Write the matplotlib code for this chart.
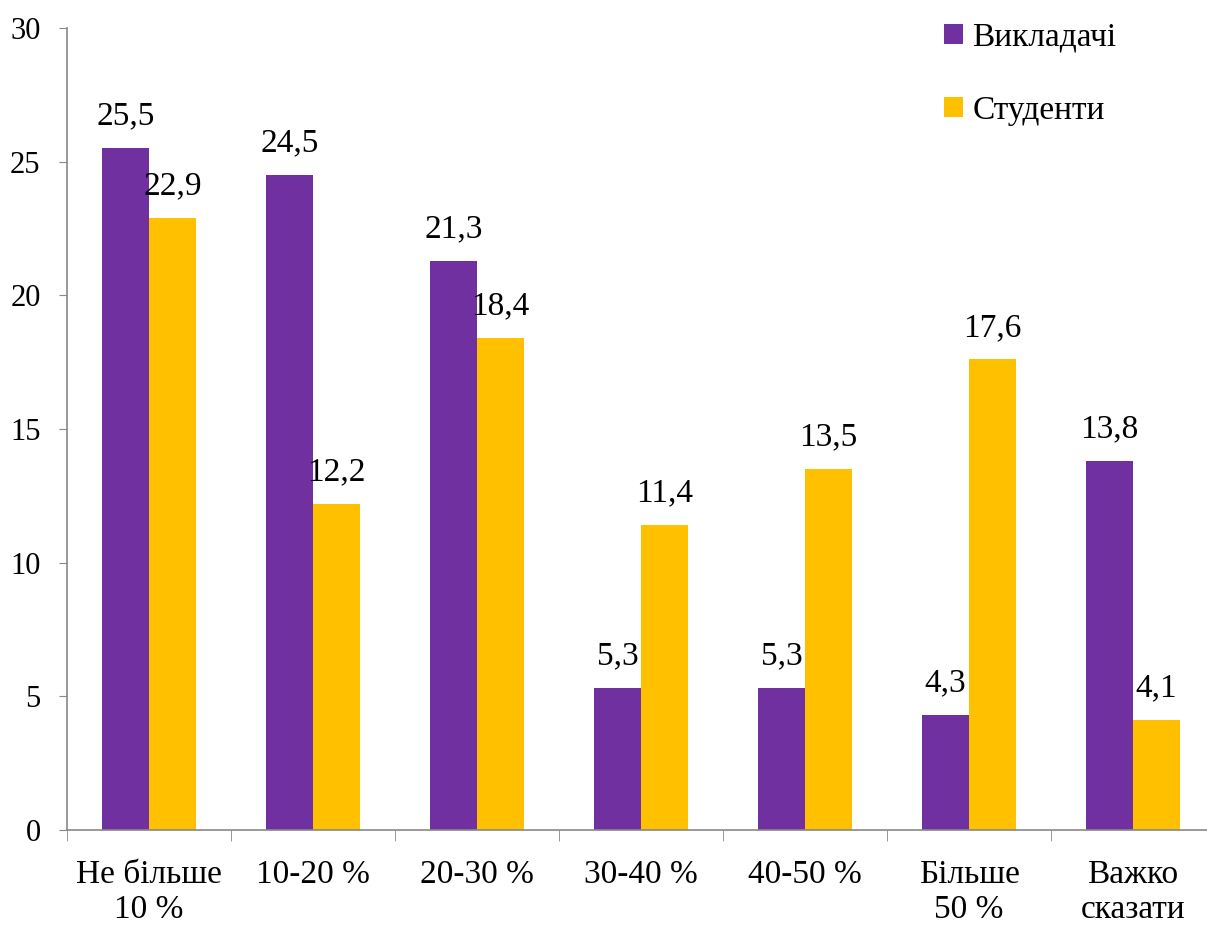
import matplotlib.pyplot as plt
import numpy as np

plt.rcParams['font.family'] = ['Liberation Serif', 'DejaVu Serif']

categories = ['Не більше\n10 %', '10-20 %', '20-30 %', '30-40 %', '40-50 %', 'Більше\n50 %', 'Важко\nсказати']
teachers = [25.5, 24.5, 21.3, 5.3, 5.3, 4.3, 13.8]
students = [22.9, 12.2, 18.4, 11.4, 13.5, 17.6, 4.1]

fig = plt.figure(figsize=(12.07, 9.27), dpi=100)
ax = fig.add_axes([67 / 1207, 1 - 830 / 927, 1148 / 1207, 802 / 927])

x = np.arange(len(categories))
w = 0.286
b1 = ax.bar(x - w / 2, teachers, w, color='#7030A0', label='Викладачі')
b2 = ax.bar(x + w / 2, students, w, color='#FFC000', label='Студенти')

fmt = lambda v: f'{v:.1f}'.replace('.', ',')
ax.bar_label(b1, labels=[fmt(v) for v in teachers], padding=12, fontsize=24)
ax.bar_label(b2, labels=[fmt(v) for v in students], padding=12, fontsize=24)

ax.set_xlim(-0.5, len(categories) - 0.5)
ax.set_ylim(0, 30)
ax.set_yticks(range(0, 31, 5))
ax.set_xticks(x)
ax.set_xticklabels(categories, fontsize=24, linespacing=1.2)
ax.set_xticks(np.arange(-0.5, len(categories), 1), minor=True)
ax.tick_params(axis='x', which='major', length=0, pad=21)
ax.tick_params(axis='x', which='minor', length=8, color='#888888', direction='out')
ax.tick_params(axis='y', labelsize=22, length=6, color='#888888', pad=13)

for s in ['top', 'right']:
    ax.spines[s].set_visible(False)
for s in ['left', 'bottom']:
    ax.spines[s].set_color('#888888')
    ax.spines[s].set_linewidth(1.2)

ax.legend(loc='upper left', bbox_to_anchor=(0.738, 1.045), frameon=False, fontsize=24,
          handlelength=0.55, handleheight=0.55, handletextpad=0.3, labelspacing=1.3)

fig.savefig('out.png', dpi=100)
